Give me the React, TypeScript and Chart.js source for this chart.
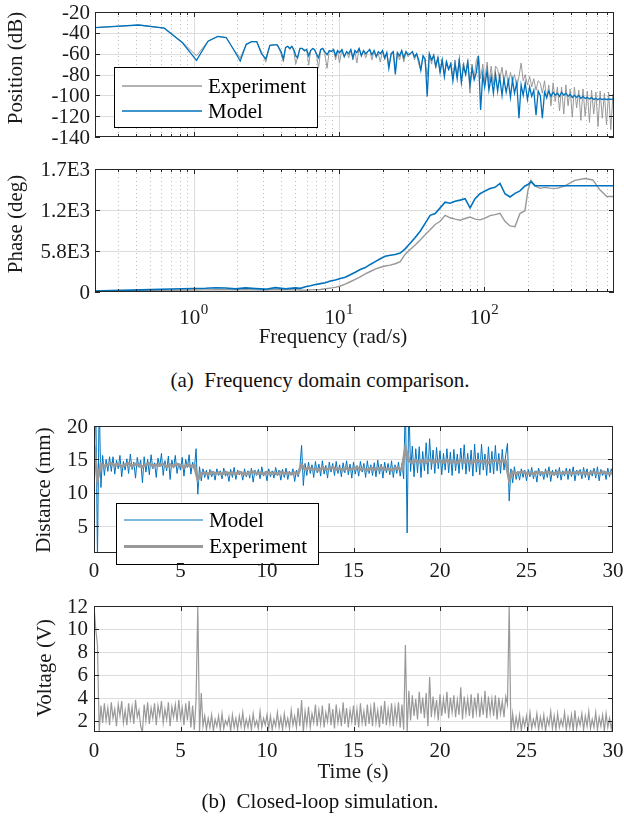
import React, { useEffect, useRef } from 'react';
import { Chart, registerables } from 'chart.js';

Chart.register(...registerables);

// ---------------- data ----------------
const MAG_FREQ = [
  0.209, 0.419, 0.628, 0.838, 1.047, 1.257, 1.466, 1.676, 1.885, 2.094,
  2.304, 2.513, 2.723, 2.932, 3.142, 3.351, 3.56, 3.77, 4.0, 4.15,
  4.3, 4.45, 4.6, 4.75, 4.9, 5.05, 5.2, 5.4, 5.6, 5.8,
  6.0, 6.2, 6.4, 6.6, 6.8, 7.0, 7.25, 7.5, 7.75, 8.0,
  8.3, 8.6, 8.9, 9.2, 9.5, 9.8, 10.1, 10.5, 10.9, 11.3,
  11.7, 12.1, 12.5, 12.9, 13.3, 13.8, 14.3, 14.8, 15.3, 15.8,
  16.3, 16.9, 17.5, 18.1, 18.7, 19.3, 20.0, 20.7, 21.4, 22.1,
  22.9, 23.7, 24.5, 25.3, 26.2, 27.1, 28.0, 29.0, 30.0, 31.0,
  32.1, 33.2, 34.3, 35.5, 36.7, 38.0, 39.3, 40.6, 42.0, 43.5,
  45.0, 46.5, 48.1, 49.8, 51.5, 53.3, 55.1, 57.0, 59.0, 61.0,
  63.1, 65.3, 67.5, 69.8, 72.2, 74.7, 77.3, 80.0, 82.7, 85.5,
  88.5, 91.5, 94.7, 98.0, 101, 105, 108, 112, 116, 120,
  124, 128, 133, 137, 142, 147, 152, 157, 162, 168,
  174, 180, 186, 192, 199, 206, 213, 220, 228, 236,
  244, 252, 261, 270, 279, 289, 299, 309, 320, 331,
  342, 354, 366, 379, 392, 405, 419, 434, 449, 464,
  480, 497, 514, 532, 550, 569, 589, 609, 630, 652,
  674, 697, 721, 746, 772, 785,
];
const MAG_MODEL = [
  -35, -32.5, -35.5, -49.5, -66.5, -48, -43.5, -44.5, -56, -67,
  -51, -48.5, -48.5, -60, -65, -52, -51.5, -51.5, -58, -65,
  -54, -53, -55, -53, -56, -62, -64, -55, -55, -57,
  -56, -62, -57, -55, -56, -60, -64, -56, -55, -58,
  -61, -57, -58, -56, -62, -57, -59, -56, -63, -58,
  -60, -56, -64, -57, -59, -55, -62, -57, -60, -58,
  -56, -61, -57, -63, -58, -60, -57, -64, -59, -74,
  -60, -58, -80, -59, -62, -57, -64, -58, -61, -60,
  -58, -63, -60, -66, -76, -62, -65, -101, -60, -66,
  -62, -72, -64, -78, -66, -82, -68, -75, -70, -86,
  -70, -84, -66, -88, -72, -80, -68, -90, -74, -85,
  -78, -62, -114, -80, -92, -76, -95, -82, -98, -80,
  -96, -82, -100, -84, -97, -86, -102, -85, -98, -88,
  -122, -90, -100, -88, -104, -92, -101, -95, -119, -96,
  -100, -122, -97, -102, -96, -101, -97, -100, -98, -101,
  -97, -100, -98, -101, -99, -102, -100, -102, -100, -103,
  -101, -103, -102, -103.5, -102, -104, -103, -104, -103, -104,
  -103.5, -104, -103.5, -104, -103.5, -104,
];
const MAG_EXP = [
  -35, -32.5, -35.5, -49, -62, -48, -43.5, -44.5, -56, -64,
  -51, -48.5, -48.5, -58, -68, -52, -51.5, -51.5, -60, -68,
  -54, -53, -56, -53, -58, -70, -63, -55, -55, -58,
  -56, -71, -57, -55, -56, -60, -74, -56, -55, -60,
  -74, -57, -58, -56, -66, -57, -69, -56, -63, -58,
  -64, -56, -66, -57, -69, -55, -62, -57, -64, -58,
  -56, -66, -57, -63, -60, -68, -57, -66, -59, -72,
  -62, -58, -76, -59, -66, -57, -68, -58, -63, -60,
  -58, -66, -60, -70, -76, -62, -68, -82, -60, -70,
  -60, -74, -63, -78, -65, -80, -66, -76, -68, -84,
  -66, -82, -65, -86, -68, -80, -66, -98, -70, -84,
  -66, -62, -84, -70, -86, -68, -88, -72, -90, -72,
  -75, -85, -73, -88, -76, -90, -78, -87, -80, -92,
  -82, -69, -86, -80, -90, -82, -92, -84, -95, -86,
  -88, -98, -86, -104, -90, -110, -88, -106, -92, -115,
  -92, -118, -90, -110, -94, -121, -92, -112, -95, -124,
  -94, -120, -96, -126, -95, -118, -97, -130, -96, -122,
  -98, -128, -97, -133, -99, -125,
];

const PHASE_FREQ = [
  0.209, 0.269, 0.369, 0.506, 0.695, 1.0, 1.21, 1.42, 1.66, 1.94,
  2.28, 2.67, 3.13, 3.66, 4.29, 5.02, 5.44, 5.89, 6.37, 6.9,
  7.46, 8.08, 8.74, 9.46, 10.24, 11.08, 12.0, 12.98, 14.05, 15.21,
  16.46, 17.82, 19.29, 20.87, 22.59, 24.45, 26.47, 28.64, 31.0, 33.56,
  36.32, 39.31, 42.56, 46.05, 49.85, 53.95, 58.39, 63.2, 68.41, 74.03,
  80.13, 86.72, 93.87, 101.6, 110.0, 119.0, 128.8, 139.4, 150.9, 163.3,
  176.8, 191.3, 200.7, 210.4, 224.2, 242.6, 262.6, 284.2, 317.6, 360.4,
  422.2, 494.6, 561.4, 627.0, 700.5, 782.6,
];
const PHASE_MODEL = [
  14, 20, 26, 33, 42, 50, 52, 60, 56, 44,
  58, 48, 40, 62, 44, 58, 52, 75, 88, 105,
  118, 132, 155, 170, 192, 210, 245, 280, 318, 345,
  390, 430, 470, 505, 520, 530, 550, 610, 690, 770,
  860, 970, 1085, 1110, 1190, 1270, 1255, 1285, 1300, 1320,
  1190, 1320, 1390, 1430, 1465, 1480, 1535, 1390, 1345, 1395,
  1430, 1500, 1520, 1560, 1504, 1504, 1504, 1504, 1504, 1504,
  1504, 1504, 1504, 1504, 1504, 1504,
];
const PHASE_EXP = [
  10, 13, 17, 20, 24, 28, 30, 33, 32, 30,
  34, 30, 28, 36, 30, 34, 28, 26, 30, 33,
  36, 45, 55, 65, 85, 110, 145, 180, 215, 255,
  290, 325, 350, 368, 380, 400, 430, 535, 600, 665,
  735, 810, 880, 955, 1000, 1085, 1050, 1030, 1015, 1040,
  1060, 1030, 1020, 1045, 1080, 1095, 1113, 1000, 935, 925,
  1110, 1150, 1440, 1580, 1500, 1466, 1480, 1470, 1466, 1500,
  1580, 1605, 1585, 1445, 1350, 1350,
];

const DIST_DT = 0.1;
const DIST_MODEL = [
  14.0, 24, 0.5, 24, 10.8, 15.6, 12.6, 15.0, 13.2, 15.4,
  13.2, 15.4, 12.8, 14.9, 13.6, 15.6, 12.4, 14.7, 13.4, 15.1,
  12.9, 15.8, 13.5, 14.6, 12.2, 15.3, 13.8, 14.9, 11.5, 15.4,
  13.1, 15.0, 12.7, 15.7, 13.6, 14.5, 12.3, 15.2, 13.9, 15.9,
  12.6, 14.8, 13.3, 15.5, 12.0, 14.9, 13.7, 15.6, 12.9, 14.4,
  13.4, 15.3, 12.5, 15.0, 13.8, 15.7, 12.8, 14.6, 13.5, 16.6,
  9.8, 13.9, 11.8, 13.6, 12.3, 13.4, 12.0, 13.5, 12.4, 13.2,
  11.9, 13.6, 12.6, 13.3, 12.1, 13.7, 12.5, 13.1, 11.7, 13.5,
  12.3, 13.8, 12.0, 13.4, 12.7, 13.2, 11.9, 13.6, 12.4, 13.3,
  12.2, 13.7, 11.6, 13.4, 12.6, 13.5, 12.1, 13.9, 12.5, 13.2,
  11.8, 13.6, 12.4, 13.3, 12.2, 13.8, 12.6, 13.4, 11.9, 13.5,
  12.3, 13.7, 12.0, 13.2, 12.7, 13.6, 11.7, 13.4, 12.4, 13.8,
  17.1, 11.1, 14.4, 12.6, 14.6, 12.9, 14.2, 12.3, 14.7, 13.0,
  14.3, 12.5, 14.8, 12.8, 14.1, 12.2, 14.6, 13.1, 14.4, 12.6,
  14.7, 12.9, 14.2, 12.4, 14.5, 13.0, 14.8, 12.7, 14.3, 12.2,
  14.6, 12.8, 14.1, 12.5, 14.7, 13.1, 14.4, 12.3, 14.8, 12.9,
  14.2, 12.6, 14.5, 12.4, 14.9, 12.8, 14.3, 12.2, 14.6, 13.0,
  14.4, 12.7, 14.8, 12.3, 14.2, 12.9, 14.6, 12.5, 14.4, 12.1,
  24, 4.0, 24, 13.2, 17.0, 12.4, 16.6, 13.0, 16.9, 12.3,
  16.2, 13.3, 17.5, 12.8, 18.1, 13.5, 16.4, 12.9, 16.8, 13.6,
  16.3, 12.7, 15.9, 13.4, 16.6, 13.0, 16.1, 12.6, 16.5, 13.3,
  15.8, 12.9, 16.7, 13.5, 17.2, 12.8, 15.9, 13.2, 16.4, 12.5,
  17.3, 13.1, 16.0, 12.7, 17.3, 13.4, 15.8, 12.6, 16.9, 13.0,
  16.2, 12.8, 17.1, 13.3, 15.9, 12.9, 16.5, 13.4, 15.7, 17.4,
  8.8, 13.6, 11.5, 13.9, 12.0, 13.2, 11.9, 13.6, 12.3, 13.4,
  11.8, 13.5, 12.4, 13.8, 12.1, 13.3, 11.6, 13.7, 12.5, 13.2,
  12.0, 13.6, 12.3, 13.9, 11.7, 13.4, 12.6, 13.5, 12.2, 13.8,
  11.9, 13.3, 12.5, 13.7, 12.0, 13.6, 12.4, 13.9, 11.8, 13.4,
  12.6, 13.5, 12.1, 13.8, 12.3, 13.6, 11.9, 13.4, 12.5, 13.7,
  12.2, 13.9, 11.8, 13.5, 12.6, 13.3, 12.0, 13.7, 12.4, 13.6,
  12.8,
];
const DIST_EXP_DT = 0.2;
const DIST_EXP = [
  17.2, 12.0, 14.3, 14.0, 14.2, 14.4, 14.1, 14.3, 13.9, 14.2,
  14.4, 14.0, 14.3, 14.1, 13.9, 14.2, 14.4, 14.0, 14.2, 14.1,
  14.3, 13.9, 14.2, 14.0, 14.3, 14.1, 13.8, 14.2, 14.0, 14.1,
  12.0, 12.9, 13.0, 12.8, 13.1, 12.9, 13.0, 12.8, 13.1, 12.9,
  13.0, 12.8, 13.1, 12.9, 12.8, 13.0, 13.1, 12.9, 13.0, 12.8,
  13.1, 12.9, 13.0, 12.8, 13.1, 12.9, 13.0, 12.8, 13.0, 12.9,
  14.2, 13.5, 13.7, 13.5, 13.6, 13.4, 13.7, 13.5, 13.6, 13.8,
  13.5, 13.6, 13.4, 13.7, 13.5, 13.6, 13.8, 13.5, 13.6, 13.4,
  13.7, 13.5, 13.6, 13.8, 13.5, 13.6, 13.4, 13.7, 13.6, 13.5,
  16.6, 14.8, 14.5, 14.9, 14.6, 14.8, 14.5, 14.9, 14.6, 14.7,
  14.8, 14.5, 14.9, 14.6, 14.7, 14.5, 14.9, 14.6, 14.8, 14.5,
  14.7, 14.9, 14.6, 14.8, 14.5, 14.7, 14.9, 14.6, 14.8, 14.7,
  12.0, 13.1, 12.9, 13.0, 13.1, 12.9, 13.0, 12.8, 13.1, 13.0,
  12.9, 13.1, 13.0, 12.8, 13.1, 12.9, 13.0, 13.1, 12.9, 13.0,
  13.1, 12.9, 13.0, 12.8, 13.1, 13.0, 12.9, 13.1, 13.0, 12.9,
  13.0,
];

const VOLT_DT = 0.1;
const VOLT_EXP = [
  12, 10.0, 8.6, 1.0, 3.3, 1.8, 3.5, 2.0, 3.1, 1.6,
  3.6, 2.2, 3.0, 1.5, 3.4, 2.4, 3.7, 1.8, 2.9, 1.6,
  3.5, 2.1, 3.2, 1.7, 3.8, 2.3, 2.9, 1.5, 1.0, 3.4,
  2.0, 3.6, 1.7, 3.1, 2.2, 3.5, 1.6, 3.3, 2.4, 3.7,
  1.8, 3.0, 2.1, 3.6, 1.5, 3.2, 2.3, 3.4, 1.9, 3.8,
  2.2, 3.1, 1.6, 3.5, 2.0, 3.7, 1.4, 3.3, 1.2, 3.8,
  12, 1.0, 4.4, 1.5, 2.4, 1.2, 2.2, 1.4, 2.5, 1.1,
  2.1, 1.5, 2.4, 1.2, 2.6, 1.3, 2.0, 1.6, 2.3, 1.1,
  2.5, 1.4, 2.2, 1.2, 2.4, 1.5, 2.7, 1.3, 2.1, 1.4,
  2.3, 1.2, 2.6, 1.5, 2.0, 1.3, 2.8, 1.4, 2.2, 1.6,
  2.5, 1.3, 2.4, 1.2, 2.1, 1.5, 2.7, 1.4, 2.3, 1.2,
  2.6, 1.5, 2.2, 1.3, 2.9, 1.6, 2.4, 1.4, 3.1, 1.5,
  3.8, 1.0, 2.8, 1.6, 3.2, 1.4, 2.6, 1.8, 3.4, 1.5,
  2.9, 1.7, 3.3, 1.4, 2.7, 1.9, 3.5, 1.6, 3.0, 1.3,
  3.4, 1.8, 2.8, 1.5, 3.6, 1.7, 3.1, 1.4, 2.9, 1.9,
  3.3, 1.6, 3.0, 1.4, 3.5, 1.8, 2.8, 1.5, 3.4, 1.7,
  3.1, 1.5, 3.6, 1.8, 2.9, 1.4, 3.3, 1.7, 3.7, 1.6,
  3.0, 1.8, 3.5, 1.5, 3.2, 1.9, 3.6, 1.4, 3.4, 1.2,
  8.6, 1.0, 4.6, 2.0, 4.2, 2.4, 3.9, 2.1, 4.5, 2.6,
  4.0, 2.2, 4.4, 1.5, 5.8, 2.3, 4.1, 2.5, 3.8, 2.0,
  4.3, 2.4, 3.9, 2.6, 4.5, 2.2, 4.0, 2.7, 4.2, 2.3,
  3.8, 2.5, 4.9, 2.1, 4.1, 2.6, 3.9, 2.4, 4.3, 2.2,
  4.0, 2.7, 4.4, 2.3, 3.8, 2.5, 4.6, 2.2, 4.1, 2.6,
  3.9, 2.4, 4.2, 2.1, 4.0, 2.6, 3.7, 2.3, 4.1, 3.4,
  12, 1.0, 2.6, 1.2, 2.3, 1.4, 2.5, 1.1, 2.2, 1.5,
  2.4, 1.2, 2.7, 1.3, 2.1, 1.5, 2.6, 1.2, 2.3, 1.4,
  2.5, 1.1, 2.2, 1.6, 2.8, 1.3, 2.4, 1.2, 2.6, 1.4,
  2.1, 1.5, 2.7, 1.2, 2.3, 1.4, 2.5, 1.1, 2.9, 1.3,
  2.2, 1.6, 2.6, 1.2, 2.4, 1.5, 2.8, 1.3, 2.1, 1.4,
  2.7, 1.2, 2.3, 1.5, 2.5, 1.1, 2.6, 1.4, 2.2, 1.3,
  2.4,
];

const MAG_TICKS = [-140, -120, -100, -80, -60, -40, -20];
const PHASE_TICKS = [0, 580, 1160, 1740];
const PHASE_TICK_LABELS = ['0', '5.8E3', '1.2E3', '1.7E3'];
const FREQ_DECADES = [1, 10, 100];
const FREQ_DECADE_EXP = ['0', '1', '2'];
const TIME_TICKS = [0, 5, 10, 15, 20, 25, 30];
const DIST_TICKS = [5, 10, 15, 20];
const VOLT_TICKS = [2, 4, 6, 8, 10, 12];

// ---------------- styling ----------------
const SERIF = '"Liberation Serif", "Times New Roman", serif';
const FS = 21;
const BLUE = '#0072BD';
const GRAY = '#999999';
const AXIS = '#262626';
const GRID = '#dcdcdc';
const MINOR_GRID = '#bdbdbd';

const LOG_MINOR: number[] = [];
for (const d of [0.1, 1, 10, 100]) for (let m = 2; m <= 9; m++) LOG_MINOR.push(d * m);

type Lab = { v: number; text: string; sup?: string };
type Legend = {
  box: [number, number, number, number];
  x0: number; x1: number; tx: number;
  items: { label: string; color: string; width: number; y: number }[];
};
type Frame = {
  top: number;
  xMajor: number[]; xMinor: number[]; yMajor: number[];
  xLabels: Lab[]; xLabelY: number;
  yLabels: Lab[]; yLabelX: number;
  xTitle?: { text: string; x: number; y: number };
  yTitle: { text: string; x: number; y: number };
  legend?: Legend;
};

function framePlugin(s: Frame) {
  const Y = (py: number) => py - s.top;
  return {
    id: 'frame',
    beforeDatasetsDraw(chart: any) {
      const { ctx, chartArea: a, scales } = chart;
      const xs = scales.x, ys = scales.y;
      ctx.save();
      ctx.lineWidth = 1;
      ctx.strokeStyle = MINOR_GRID;
      ctx.setLineDash([1, 3]);
      for (const v of s.xMinor) {
        const p = Math.round(xs.getPixelForValue(v)) + 0.5;
        if (p <= a.left + 1 || p >= a.right - 1) continue;
        ctx.beginPath(); ctx.moveTo(p, a.top); ctx.lineTo(p, a.bottom); ctx.stroke();
      }
      ctx.setLineDash([]);
      ctx.strokeStyle = GRID;
      for (const v of s.xMajor) {
        const p = Math.round(xs.getPixelForValue(v)) + 0.5;
        if (p <= a.left + 1 || p >= a.right - 1) continue;
        ctx.beginPath(); ctx.moveTo(p, a.top); ctx.lineTo(p, a.bottom); ctx.stroke();
      }
      for (const v of s.yMajor) {
        const p = Math.round(ys.getPixelForValue(v)) + 0.5;
        if (p <= a.top + 1 || p >= a.bottom - 1) continue;
        ctx.beginPath(); ctx.moveTo(a.left, p); ctx.lineTo(a.right, p); ctx.stroke();
      }
      ctx.restore();
    },
    afterDatasetsDraw(chart: any) {
      const { ctx, chartArea: a, scales } = chart;
      const xs = scales.x, ys = scales.y;
      ctx.save();
      // box
      ctx.strokeStyle = AXIS;
      ctx.lineWidth = 1;
      ctx.strokeRect(a.left + 0.5, a.top + 0.5, a.right - a.left - 1, a.bottom - a.top - 1);
      // ticks
      ctx.beginPath();
      const tickX = (v: number, len: number) => {
        const p = Math.round(xs.getPixelForValue(v)) + 0.5;
        if (p < a.left || p > a.right) return;
        ctx.moveTo(p, a.bottom); ctx.lineTo(p, a.bottom - len);
        ctx.moveTo(p, a.top); ctx.lineTo(p, a.top + len);
      };
      s.xMajor.forEach((v) => tickX(v, 5));
      s.xMinor.forEach((v) => tickX(v, 3));
      s.yMajor.forEach((v) => {
        const p = Math.round(ys.getPixelForValue(v)) + 0.5;
        ctx.moveTo(a.left, p); ctx.lineTo(a.left + 5, p);
        ctx.moveTo(a.right, p); ctx.lineTo(a.right - 5, p);
      });
      ctx.stroke();

      // legend
      if (s.legend) {
        const lg = s.legend;
        const [l, t, r, b] = lg.box;
        ctx.fillStyle = '#ffffff';
        ctx.fillRect(l, Y(t), r - l, b - t);
        ctx.strokeStyle = '#000000';
        ctx.lineWidth = 1;
        ctx.strokeRect(l + 0.5, Y(t) + 0.5, r - l, b - t);
        for (const it of lg.items) {
          ctx.strokeStyle = it.color;
          ctx.lineWidth = it.width;
          ctx.beginPath();
          ctx.moveTo(lg.x0, Y(it.y)); ctx.lineTo(lg.x1, Y(it.y));
          ctx.stroke();
          ctx.fillStyle = '#000000';
          ctx.font = `${FS}px ${SERIF}`;
          ctx.textAlign = 'left';
          ctx.textBaseline = 'middle';
          ctx.fillText(it.label, lg.tx, Y(it.y) + 1);
        }
      }

      // tick labels
      ctx.fillStyle = '#1a1a1a';
      ctx.textBaseline = 'middle';
      ctx.font = `${FS}px ${SERIF}`;
      ctx.textAlign = 'right';
      for (const lb of s.yLabels) {
        ctx.fillText(lb.text, s.yLabelX, ys.getPixelForValue(lb.v) + 1);
      }
      for (const lb of s.xLabels) {
        const p = xs.getPixelForValue(lb.v);
        if (lb.sup !== undefined) {
          ctx.font = `${FS}px ${SERIF}`;
          const w1 = ctx.measureText(lb.text).width;
          ctx.font = `${Math.round(FS * 0.7)}px ${SERIF}`;
          const w2 = ctx.measureText(lb.sup).width;
          const x0 = p - (w1 + w2) / 2;
          ctx.textAlign = 'left';
          ctx.font = `${FS}px ${SERIF}`;
          ctx.fillText(lb.text, x0, Y(s.xLabelY));
          ctx.font = `${Math.round(FS * 0.7)}px ${SERIF}`;
          ctx.fillText(lb.sup, x0 + w1 + 0.5, Y(s.xLabelY) - 8);
        } else {
          ctx.textAlign = 'center';
          ctx.font = `${FS}px ${SERIF}`;
          ctx.fillText(lb.text, p, Y(s.xLabelY));
        }
      }
      // titles
      ctx.font = `${FS}px ${SERIF}`;
      ctx.textAlign = 'center';
      ctx.textBaseline = 'middle';
      if (s.xTitle) ctx.fillText(s.xTitle.text, s.xTitle.x, Y(s.xTitle.y));
      ctx.translate(s.yTitle.x, Y(s.yTitle.y));
      ctx.rotate(-Math.PI / 2);
      ctx.fillText(s.yTitle.text, 0, 0);
      ctx.restore();
    },
  };
}

const pairs = (xs: number[], ys: number[]) => xs.map((x, i) => ({ x, y: ys[i] }));
const sampled = (dt: number, ys: number[]) => ys.map((y, i) => ({ x: Math.round(i * dt * 1000) / 1000, y }));

function baseOptions(pad: any, x: any, y: any) {
  return {
    animation: false,
    responsive: false,
    devicePixelRatio: 1,
    events: [],
    layout: { padding: pad },
    scales: { x: { ...x, display: false }, y: { type: 'linear', ...y, display: false } },
    plugins: { legend: { display: false }, tooltip: { enabled: false } },
    elements: { point: { radius: 0 }, line: { tension: 0 } },
  };
}

const ds = (data: any[], color: string, width: number) => ({
  data, borderColor: color, borderWidth: width, pointRadius: 0, clip: 0, fill: false,
  borderJoinStyle: 'miter' as const,
});

export default function App() {
  const r1 = useRef<HTMLCanvasElement>(null);
  const r2 = useRef<HTMLCanvasElement>(null);
  const r3 = useRef<HTMLCanvasElement>(null);
  const r4 = useRef<HTMLCanvasElement>(null);

  useEffect(() => {
    const charts: Chart[] = [];
    const freqLabels: Lab[] = FREQ_DECADES.map((v, i) => ({ v, text: '10', sup: FREQ_DECADE_EXP[i] }));
    const timeLabels: Lab[] = TIME_TICKS.map((v) => ({ v, text: String(v) }));
    const logX = { type: 'logarithmic', min: 0.2094, max: 785 };
    const linX = { type: 'linear', min: 0, max: 30 };

    // Magnitude
    charts.push(new Chart(r1.current as HTMLCanvasElement, {
      type: 'line',
      data: { datasets: [ds(pairs(MAG_FREQ, MAG_MODEL), BLUE, 1.3), ds(pairs(MAG_FREQ, MAG_EXP), GRAY, 1)] as any },
      options: baseOptions({ left: 95, right: 10, top: 12, bottom: 13 }, logX, { min: -140, max: -20 }) as any,
      plugins: [framePlugin({
        top: 0,
        xMajor: FREQ_DECADES, xMinor: LOG_MINOR, yMajor: MAG_TICKS,
        xLabels: [], xLabelY: 0,
        yLabels: MAG_TICKS.map((v) => ({ v, text: String(v) })), yLabelX: 90,
        yTitle: { text: 'Position (dB)', x: 16, y: 68 },
        legend: {
          box: [114, 67, 317, 127], x0: 122, x1: 202, tx: 208,
          items: [
            { label: 'Experiment', color: GRAY, width: 1.3, y: 86 },
            { label: 'Model', color: BLUE, width: 1.3, y: 111 },
          ],
        },
      })],
    }));

    // Phase
    charts.push(new Chart(r2.current as HTMLCanvasElement, {
      type: 'line',
      data: { datasets: [ds(pairs(PHASE_FREQ, PHASE_MODEL), BLUE, 1.6), ds(pairs(PHASE_FREQ, PHASE_EXP), GRAY, 1.4)] as any },
      options: baseOptions({ left: 95, right: 10, top: 19, bottom: 58 }, logX, { min: 0, max: 1740 }) as any,
      plugins: [framePlugin({
        top: 150,
        xMajor: FREQ_DECADES, xMinor: LOG_MINOR, yMajor: PHASE_TICKS,
        xLabels: freqLabels, xLabelY: 318,
        yLabels: PHASE_TICKS.map((v, i) => ({ v, text: PHASE_TICK_LABELS[i] })), yLabelX: 90,
        xTitle: { text: 'Frequency (rad/s)', x: 333, y: 337 },
        yTitle: { text: 'Phase (deg)', x: 16, y: 224 },
      })],
    }));

    // Distance
    charts.push(new Chart(r3.current as HTMLCanvasElement, {
      type: 'line',
      data: { datasets: [ds(sampled(DIST_EXP_DT, DIST_EXP), GRAY, 3), ds(sampled(DIST_DT, DIST_MODEL), BLUE, 1)] as any },
      options: baseOptions({ left: 94, right: 11, top: 26, bottom: 37 }, linX, { min: 1, max: 20 }) as any,
      plugins: [framePlugin({
        top: 400,
        xMajor: TIME_TICKS, xMinor: [], yMajor: DIST_TICKS,
        xLabels: timeLabels, xLabelY: 571,
        yLabels: DIST_TICKS.map((v) => ({ v, text: String(v) })), yLabelX: 88,
        yTitle: { text: 'Distance (mm)', x: 44, y: 490 },
        legend: {
          box: [116, 503, 318, 564], x0: 124, x1: 203, tx: 209,
          items: [
            { label: 'Model', color: BLUE, width: 1.2, y: 520 },
            { label: 'Experiment', color: GRAY, width: 3, y: 546.5 },
          ],
        },
      })],
    }));

    // Voltage
    charts.push(new Chart(r4.current as HTMLCanvasElement, {
      type: 'line',
      data: { datasets: [ds(sampled(VOLT_DT, VOLT_EXP), GRAY, 1.2)] as any },
      options: baseOptions({ left: 94, right: 11, top: 16, bottom: 58 }, linX, { min: 1, max: 12 }) as any,
      plugins: [framePlugin({
        top: 590,
        xMajor: TIME_TICKS, xMinor: [], yMajor: VOLT_TICKS,
        xLabels: timeLabels, xLabelY: 751,
        yLabels: VOLT_TICKS.map((v) => ({ v, text: String(v) })), yLabelX: 88,
        xTitle: { text: 'Time (s)', x: 353, y: 772 },
        yTitle: { text: 'Voltage (V)', x: 45, y: 668 },
      })],
    }));

    return () => { charts.forEach((c) => c.destroy()); };
  }, []);

  const cv = (top: number, h: number): React.CSSProperties => ({ position: 'absolute', left: 0, top, width: 624, height: h });
  const cap = (top: number): React.CSSProperties => ({
    position: 'absolute', left: 0, top, width: 640, textAlign: 'center',
    fontFamily: SERIF, fontSize: FS, lineHeight: '24px', color: '#111',
  });

  return (
    <div style={{ position: 'absolute', left: 0, top: 0, width: 624, height: 827, background: '#fff', overflow: 'hidden' }}>
      <canvas ref={r1} width={624} height={150} style={cv(0, 150)} />
      <canvas ref={r2} width={624} height={200} style={cv(150, 200)} />
      <div style={cap(368)}>(a)&nbsp; Frequency domain comparison.</div>
      <canvas ref={r3} width={624} height={190} style={cv(400, 190)} />
      <canvas ref={r4} width={624} height={200} style={cv(590, 200)} />
      <div style={cap(789)}>(b)&nbsp; Closed-loop simulation.</div>
    </div>
  );
}
